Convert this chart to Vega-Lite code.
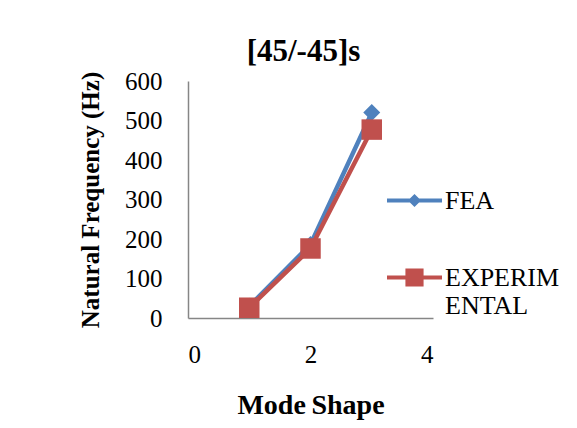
{
  "$schema": "https://vega.github.io/schema/vega-lite/v6.json",
  "width": 245,
  "height": 237,
  "autosize": "none",
  "padding": {"left": 188, "top": 81, "right": 144, "bottom": 110},
  "background": "white",
  "title": {
    "text": "[45/-45]s",
    "font": "Liberation Serif",
    "fontSize": 31,
    "fontWeight": "bold",
    "color": "black",
    "anchor": "middle",
    "dx": -7,
    "offset": 1
  },
  "data": {
    "values": [
      {"mode": 1, "freq": 30, "series": "FEA"},
      {"mode": 2, "freq": 186, "series": "FEA"},
      {"mode": 3, "freq": 520, "series": "FEA"},
      {"mode": 1, "freq": 26, "series": "EXPERIMENTAL"},
      {"mode": 2, "freq": 176, "series": "EXPERIMENTAL"},
      {"mode": 3, "freq": 477, "series": "EXPERIMENTAL"}
    ]
  },
  "encoding": {
    "x": {
      "field": "mode",
      "type": "quantitative",
      "scale": {"domain": [0, 4], "nice": false},
      "axis": {"values": [0, 2, 4], "title": "Mode\u2009Shape", "titleFontSize": 28, "grid": false, "ticks": false, "labelPadding": 24, "titlePadding": 24}
    },
    "y": {
      "field": "freq",
      "type": "quantitative",
      "scale": {"domain": [0, 600], "nice": false},
      "axis": {"values": [0, 100, 200, 300, 400, 500, 600], "title": "Natural Frequency (Hz)", "titleFontSize": 25, "grid": false, "ticks": false, "labelPadding": 26, "titlePadding": 21}
    },
    "color": {
      "field": "series",
      "type": "nominal",
      "sort": ["FEA", "EXPERIMENTAL"],
      "scale": {"domain": ["FEA", "EXPERIMENTAL"], "range": ["#4F81BD", "#C0504D"]},
      "legend": {
        "title": null,
        "orient": "none",
        "legendX": 199,
        "legendY": 92,
        "symbolSize": 3025,
        "symbolStrokeWidth": 0,
        "symbolOpacity": 1,
        "labelFont": "Liberation Serif",
        "labelFontSize": 26,
        "labelColor": "black",
        "labelOffset": 3,
        "labelBaseline": "middle",
        "labelLimit": 200,
        "rowPadding": 36,
        "labelExpr": "datum.label == 'EXPERIMENTAL' ? ['EXPERIM', 'ENTAL'] : datum.label",
        "encode": {
          "symbols": {
            "update": {
              "shape": {"signal": "datum.value == 'FEA' ? 'M-1,-0.075L1,-0.075L1,0.075L-1,0.075Z M0,-0.24L0.24,0L0,0.24L-0.24,0Z' : 'M-1,-0.075L1,-0.075L1,0.075L-1,0.075Z M-0.33,-0.33L0.33,-0.33L0.33,0.33L-0.33,0.33Z'"},
              "size": {"value": 3025},
              "fillOpacity": {"value": 1},
              "strokeWidth": {"value": 0}
            }
          }
        }
      }
    }
  },
  "layer": [
    {
      "mark": {"type": "line", "strokeWidth": 4.5}
    },
    {
      "transform": [{"filter": "datum.series == 'FEA'"}],
      "mark": {"type": "point", "filled": true, "opacity": 1, "shape": "diamond", "size": 290}
    },
    {
      "transform": [{"filter": "datum.series == 'EXPERIMENTAL'"}],
      "mark": {"type": "point", "filled": true, "opacity": 1, "shape": "square", "size": 420}
    }
  ],
  "config": {
    "view": {"stroke": null},
    "axis": {
      "domainColor": "#868686",
      "domainWidth": 1.5,
      "labelFont": "Liberation Serif",
      "labelFontSize": 25,
      "labelColor": "black",
      "titleFont": "Liberation Serif",
      "titleFontWeight": "bold",
      "titleColor": "black"
    }
  }
}
